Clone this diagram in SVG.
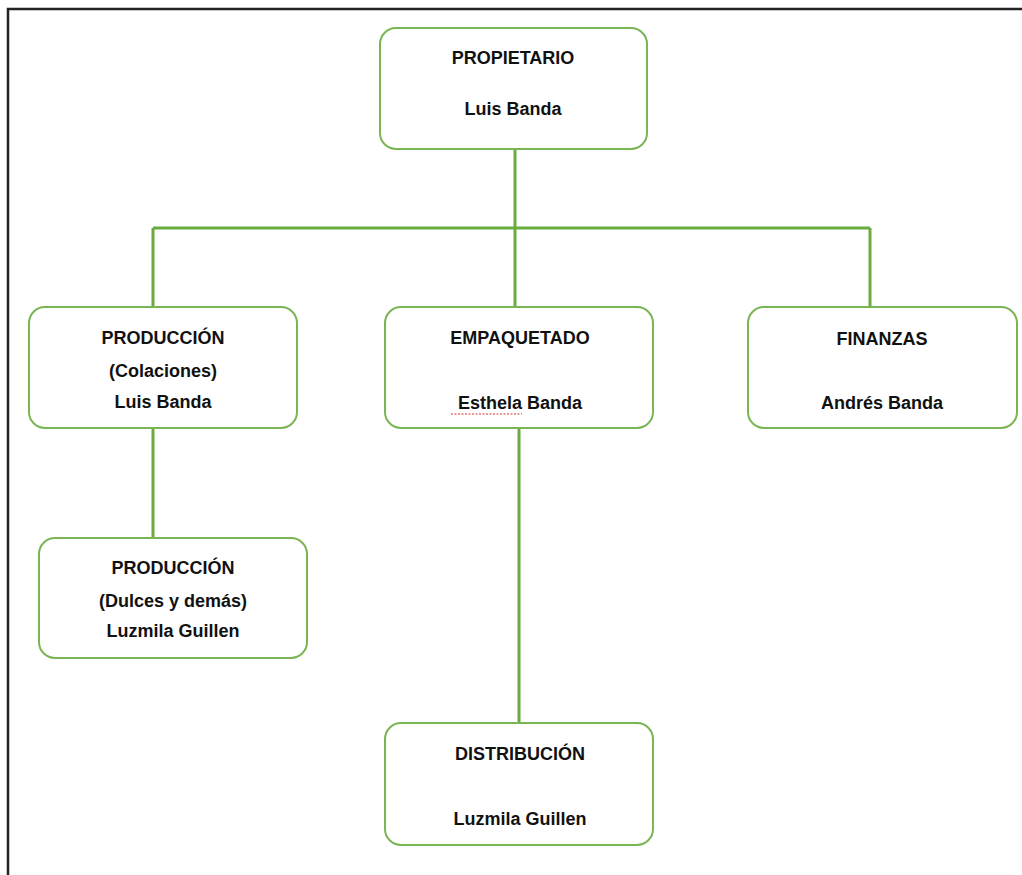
<svg xmlns="http://www.w3.org/2000/svg" width="1022" height="875" viewBox="0 0 1022 875">
<style>
.box{fill:#fff;stroke:#79b552;stroke-width:2}
.ln{stroke:#6aab3f;stroke-width:3;fill:none}
text{font-family:"Liberation Sans",Arial,sans-serif;font-weight:700;font-size:18px;fill:#111;text-anchor:middle}
</style>
<rect width="1022" height="875" fill="#fff"/>
<path d="M8,876 V9 H1023" fill="none" stroke="#222" stroke-width="2.5"/>
<g id="connectors">
<path class="ln" d="M515,150 V307"/>
<path class="ln" d="M153,228 H870"/>
<path class="ln" d="M153,228 V307"/>
<path class="ln" d="M870,228 V307"/>
<path class="ln" d="M153,428 V538"/>
<path class="ln" d="M519,428 V723"/>
</g>
<g id="propietario">
<rect class="box" x="380" y="28" width="267" height="121" rx="16"/>
<text x="513" y="64">PROPIETARIO</text>
<text x="513" y="115">Luis Banda</text>
</g>
<g id="produccion-colaciones">
<rect class="box" x="29" y="307" width="268" height="121" rx="16"/>
<text x="163" y="344">PRODUCCIÓN</text>
<text x="163" y="377">(Colaciones)</text>
<text x="163" y="408">Luis Banda</text>
</g>
<g id="empaquetado">
<rect class="box" x="385" y="307" width="268" height="121" rx="16"/>
<text x="520" y="344">EMPAQUETADO</text>
<text x="520" y="409">Esthela Banda</text>
<path d="M451,414 H522" stroke="#e03030" stroke-width="1.2" stroke-dasharray="2,1.5" fill="none"/>
</g>
<g id="finanzas">
<rect class="box" x="748" y="307" width="269" height="121" rx="16"/>
<text x="882" y="345">FINANZAS</text>
<text x="882" y="409">Andrés Banda</text>
</g>
<g id="produccion-dulces">
<rect class="box" x="39" y="538" width="268" height="120" rx="16"/>
<text x="173" y="574">PRODUCCIÓN</text>
<text x="173" y="607">(Dulces y demás)</text>
<text x="173" y="637">Luzmila Guillen</text>
</g>
<g id="distribucion">
<rect class="box" x="385" y="723" width="268" height="122" rx="16"/>
<text x="520" y="760">DISTRIBUCIÓN</text>
<text x="520" y="825">Luzmila Guillen</text>
</g>
</svg>
